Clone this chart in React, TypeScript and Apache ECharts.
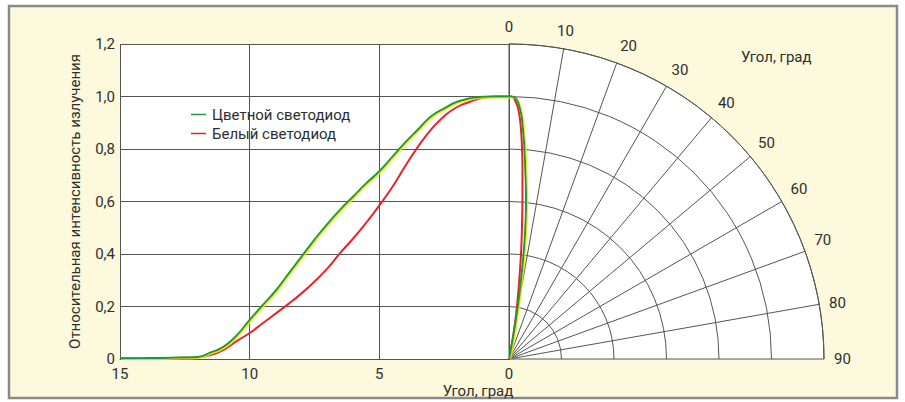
import React, { useEffect, useRef } from "react";
import * as echarts from "echarts";

// Angle, degrees (the Cartesian axis is drawn reversed: 15 on the left, 0 on the right)
const angles = [0, 0.5, 1, 1.5, 2, 2.5, 3, 3.5, 4, 4.5, 5, 5.5, 6, 6.5, 7, 7.5, 8, 8.5, 9, 9.5, 10, 10.5, 11, 11.5, 12, 13, 14, 15];
// Relative intensity — coloured LED (green)
const coloredLed = [1, 1, 0.999, 0.993, 0.98, 0.955, 0.925, 0.875, 0.825, 0.77, 0.715, 0.67, 0.62, 0.57, 0.515, 0.455, 0.39, 0.325, 0.26, 0.205, 0.149, 0.09, 0.047, 0.025, 0.008, 0.005, 0.004, 0.003];
// Relative intensity — white LED (red)
const whiteLed = [1, 1, 0.995, 0.98, 0.96, 0.925, 0.875, 0.81, 0.735, 0.655, 0.585, 0.52, 0.46, 0.405, 0.345, 0.295, 0.25, 0.21, 0.173, 0.136, 0.099, 0.068, 0.035, 0.015, 0.006, 0.004, 0.003, 0.002];

const xTicks = [15, 10, 5, 0];
const polarTicks = [0, 10, 20, 30, 40, 50, 60, 70, 80, 90];

const FONT = "Roboto, 'Liberation Sans', sans-serif";
const FS = 15;
const TEXT = "#2e2e2e";
const GRID = "#555555";
const GREEN = "#1f9a3a";
const RED = "#e8232a";
const NAME_C = "Цветной светодиод";
const NAME_W = "Белый светодиод";

export default function App() {
  const ref = useRef<HTMLDivElement>(null);
  useEffect(() => {
    if (!ref.current) return;
    const chart = echarts.init(ref.current, null, { renderer: "svg" });
    const cart = (vals: number[]) => angles.map((a, i) => [a, vals[i]]);
    const pol = (vals: number[]) => angles.map((a, i) => [vals[i], a]);
    const greenLine = {
      color: GREEN,
      width: 2,
      shadowColor: "rgba(240,230,0,0.9)",
      shadowBlur: 0.5,
      shadowOffsetX: 1.2,
      shadowOffsetY: 1,
    };
    chart.setOption({
      animation: false,
      backgroundColor: "#ffffff",
      textStyle: { fontFamily: FONT, color: TEXT },
      graphic: [
        {
          type: "rect",
          z: -100,
          shape: { x: 9, y: 6, width: 888, height: 392 },
          style: { fill: "#fcf9dc", stroke: "#8a8a8a", lineWidth: 2.5 },
        },
        {
          type: "sector",
          z: -99,
          shape: { cx: 509, cy: 359, r: 315, r0: 0, startAngle: -Math.PI / 2, endAngle: 0, clockwise: true },
          style: { fill: "#ffffff" },
        },
        {
          type: "text",
          x: 478,
          y: 391,
          style: { text: "Угол, град", font: `${FS}px ${FONT}`, fill: TEXT, align: "center", verticalAlign: "middle" },
        },
        {
          type: "text",
          x: 741,
          y: 57,
          style: { text: "Угол, град", font: `${FS}px ${FONT}`, fill: TEXT, align: "left", verticalAlign: "middle" },
        },
      ],
      legend: {
        orient: "vertical",
        left: 186,
        top: 102,
        icon: "rect",
        itemWidth: 15,
        itemHeight: 1.5,
        itemGap: 4,
        data: [NAME_C, NAME_W],
        textStyle: { fontFamily: FONT, fontSize: FS, color: TEXT, padding: [0, 0, 0, 1] },
        selectedMode: false,
      },
      grid: {
        left: 120,
        right: 396,
        top: 44,
        bottom: 43,
        show: true,
        backgroundColor: "#ffffff",
        borderWidth: 0,
      },
      xAxis: {
        type: "value",
        inverse: true,
        min: 0,
        max: 15,
        interval: 5,
        axisLine: { show: true, lineStyle: { color: GRID, width: 1 } },
        axisTick: { show: false },
        splitLine: { show: true, lineStyle: { color: GRID, width: 1 } },
        axisLabel: {
          fontFamily: FONT,
          fontSize: FS,
          color: TEXT,
          margin: 7,
          formatter: (v: number) => (xTicks.includes(v) ? String(v) : ""),
        },
      },
      yAxis: {
        type: "value",
        min: 0,
        max: 1.2,
        interval: 0.2,
        name: "Относительная интенсивность излучения",
        nameLocation: "middle",
        nameGap: 38,
        nameTextStyle: { fontFamily: FONT, fontSize: FS, color: TEXT },
        axisLine: { show: true, lineStyle: { color: GRID, width: 1 } },
        axisTick: { show: false },
        splitLine: { show: true, lineStyle: { color: GRID, width: 1 } },
        axisLabel: {
          fontFamily: FONT,
          fontSize: FS,
          color: TEXT,
          margin: 5,
          formatter: (v: number) => (Math.abs(v) < 1e-9 ? "0" : v.toFixed(1).replace(".", ",")),
        },
      },
      polar: { center: [509, 359], radius: 315 },
      angleAxis: {
        type: "value",
        min: 0,
        max: 90,
        interval: 10,
        startAngle: 90,
        endAngle: 0,
        clockwise: true,
        axisLine: { show: true, lineStyle: { color: GRID, width: 1 } },
        axisTick: { show: false },
        axisLabel: {
          show: true,
          margin: 10,
          fontFamily: FONT,
          fontSize: FS,
          color: TEXT,
          formatter: (v: number) => (polarTicks.includes(v) ? String(v) : ""),
        },
        splitLine: { show: true, lineStyle: { color: GRID, width: 1 } },
        splitArea: { show: false },
      },
      radiusAxis: {
        type: "value",
        min: 0,
        max: 1.2,
        interval: 0.2,
        axisLine: { show: false },
        axisTick: { show: false },
        axisLabel: { show: false },
        splitLine: { show: true, lineStyle: { color: GRID, width: 1 } },
      },
      series: [
        {
          name: NAME_W,
          type: "line",
          coordinateSystem: "cartesian2d",
          data: cart(whiteLed),
          smooth: 0.5,
          symbol: "none",
          lineStyle: { color: RED, width: 2 },
          itemStyle: { color: RED },
          z: 3,
        },
        {
          name: NAME_C,
          type: "line",
          coordinateSystem: "cartesian2d",
          data: cart(coloredLed),
          smooth: 0.5,
          symbol: "none",
          lineStyle: greenLine,
          itemStyle: { color: GREEN },
          z: 4,
        },
        {
          name: NAME_W,
          type: "line",
          coordinateSystem: "polar",
          data: pol(whiteLed),
          smooth: 0.3,
          symbol: "none",
          lineStyle: { color: RED, width: 2 },
          itemStyle: { color: RED },
          z: 3,
        },
        {
          name: NAME_C,
          type: "line",
          coordinateSystem: "polar",
          data: pol(coloredLed),
          smooth: 0.3,
          symbol: "none",
          lineStyle: greenLine,
          itemStyle: { color: GREEN },
          z: 4,
        },
      ],
    });
    return () => chart.dispose();
  }, []);
  return (
    <div
      ref={ref}
      style={{ position: "absolute", left: 0, top: 0, width: 905, height: 402 }}
    />
  );
}
